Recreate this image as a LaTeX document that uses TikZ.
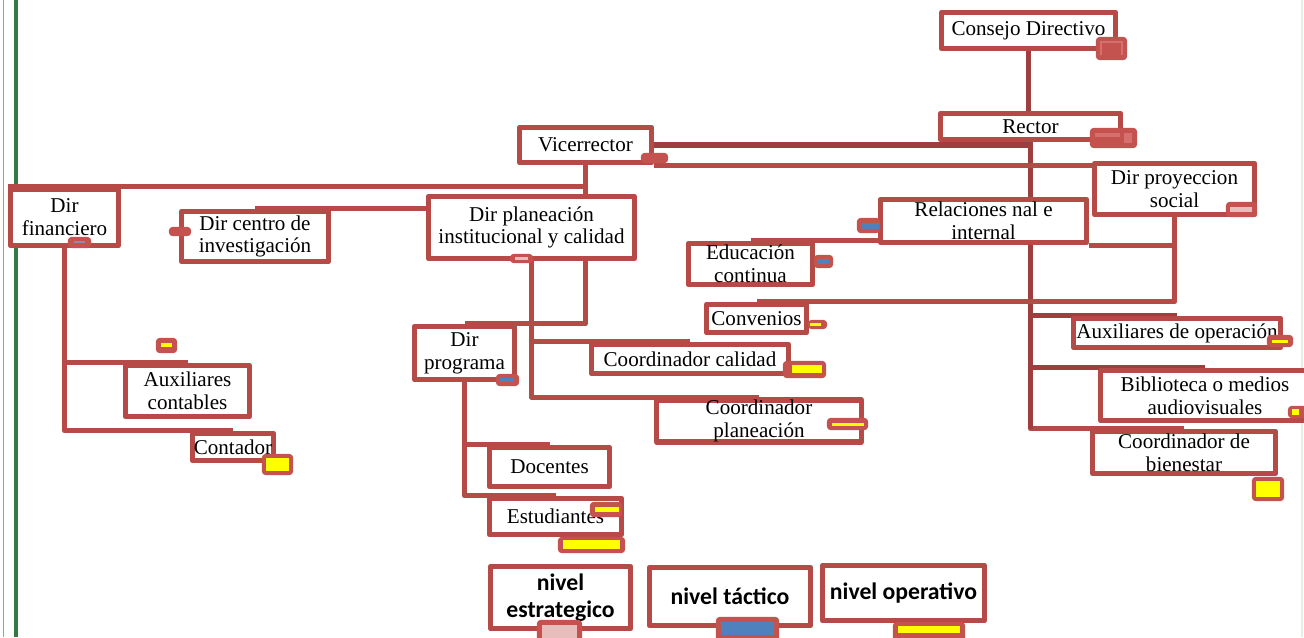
\documentclass[tikz,border=0pt]{standalone}
\usepackage{fontspec}
\setmainfont{Liberation Serif}
\newfontfamily\legendfont{Carlito}
\usetikzlibrary{backgrounds}
\definecolor{boxred}{RGB}{181,74,71}
\definecolor{darkred}{RGB}{158,62,62}
\definecolor{tagred}{RGB}{196,82,79}
\definecolor{taglight}{RGB}{214,112,110}
\definecolor{tagyellow}{RGB}{255,255,0}
\definecolor{tagblue}{RGB}{79,129,189}
\definecolor{taggray}{RGB}{140,140,170}
\definecolor{tagpink}{RGB}{232,190,189}
\definecolor{greenA}{RGB}{55,120,65}
\definecolor{greenB}{RGB}{130,180,130}
\definecolor{greenC}{RGB}{225,242,225}
\begin{document}
\begin{tikzpicture}[x=0.02cm,y=-0.02cm,
  box/.style={draw=boxred, line width=3pt, fill=white, inner sep=0pt, align=center,
              font=\fontsize{12}{13}\selectfont, line join=round},
  legendbox/.style={box, font=\legendfont\bfseries\fontsize{13.5}{15}\selectfont},
  conn/.style={draw=boxred, line width=2.9pt, line join=round},
  darkconn/.style={conn, draw=darkred},
  tagbox/.style={fill=tagred, draw=tagred, line width=1.2pt, rounded corners=1.5pt},
]
\useasboundingbox (0,0) rectangle (1304,637);

% boxes
\node[box, minimum width=3.48cm, minimum height=0.72cm] (consejo) at (1028.5,30.5) {Consejo Directivo};
\node[box, minimum width=3.60cm, minimum height=0.52cm] (rector) at (1030.5,126.5) {Rector};
\node[box, minimum width=2.64cm, minimum height=0.70cm] (vice) at (585.5,145) {Vicerrector};
\node[box, minimum width=2.16cm, minimum height=1.12cm] (finan) at (64.5,217.5) {Dir\\financiero};
\node[box, minimum width=2.94cm, minimum height=1.00cm] (centro) at (255,236.5) {Dir centro de\\investigación};
\node[box, minimum width=4.12cm, minimum height=1.24cm] (planea) at (531.5,227.5) {Dir planeación\\institucional y calidad};
\node[box, minimum width=2.48cm, minimum height=1.02cm] (auxc) at (187.5,391) {Auxiliares\\contables};
\node[box, minimum width=1.62cm, minimum height=0.54cm] (contador) at (233,447) {Contador};
\node[box, minimum width=2.00cm, minimum height=1.06cm] (prog) at (464.5,353) {Dir\\programa};
\node[box, minimum width=3.94cm, minimum height=0.58cm] (ccal) at (690,359) {Coordinador calidad};
\node[box, minimum width=4.10cm, minimum height=0.78cm] (cplan) at (759,421) {Coordinador\\planeación};
\node[box, minimum width=2.40cm, minimum height=0.78cm] (doc) at (549.5,467) {Docentes};
\node[box, minimum width=2.64cm, minimum height=0.72cm] (est) at (555.5,516.5) {Estudiantes};
\node[box, minimum width=4.12cm, minimum height=0.86cm] (rel) at (983.5,221) {Relaciones nal e\\internal};
\node[box, minimum width=3.20cm, minimum height=1.02cm] (proy) at (1174.5,189) {Dir proyeccion\\social};
\node[box, minimum width=2.48cm, minimum height=0.82cm] (edu) at (750.5,264) {Educación\\continua};
\node[box, minimum width=2.00cm, minimum height=0.56cm] (conv) at (756.5,318.5) {Convenios};
\node[box, minimum width=4.14cm, minimum height=0.58cm] (auxop) at (1177,333) {Auxiliares de operación};
\node[box, minimum width=4.18cm, minimum height=1.00cm] (bib) at (1205,395.5) {Biblioteca o medios\\audiovisuales};
\node[box, minimum width=3.66cm, minimum height=0.84cm] (bien) at (1184,452.5) {Coordinador de\\bienestar};
\node[legendbox, minimum width=2.80cm, minimum height=1.24cm] (nest) at (560.5,597.5) {nivel\\estrategico};
\node[legendbox, minimum width=3.22cm, minimum height=1.16cm] (ntac) at (730,596.5) {nivel táctico};
\node[legendbox, minimum width=3.24cm, minimum height=1.10cm] (nop) at (903.5,593) {nivel operativo};

% connectors
\begin{pgfonlayer}{background}
  \draw[greenB, line width=0.9pt] (3.5,0) -- (3.5,637);
  \draw[greenA, line width=2.6pt] (16,0) -- (16,637);
  \draw[greenC, line width=1pt] (1302,0) -- (1302,637);
  \draw[darkconn] (consejo.south) -- (consejo.south |- rector.north);
  \draw[conn] (rector.south) |- (bien.north);
  \draw[darkconn] (rector.south) -- (rector.south |- bien.north);
  \draw[darkconn] (rector.south) |- (auxop.north);
  \draw[darkconn] (rector.south) |- (bib.north);
  \draw[darkconn] (vice.east) -- (vice.east -| rector.south);
  \draw[conn] (vice.south east) -- (vice.south east -| proy.west);
  \draw[conn] (vice.south) -- (vice.south |- planea.north);
  \draw[conn] (finan.north west) -- (finan.north west -| vice.south);
  \draw[conn] (centro.north) -- (centro.north -| planea.west);
  \draw[conn] (finan.south) |- (auxc.north);
  \draw[conn] (finan.south) |- (contador.north);
  \draw[conn] (planea.south -| vice.south) |- (prog.north);
  \draw[conn] (planea.south) |- (ccal.north);
  \draw[conn] (planea.south) |- (cplan.north);
  \draw[conn] (prog.south) |- (doc.north);
  \draw[conn] (prog.south) |- (est.north);
  \draw[conn] (edu.north) -- (edu.north -| rel.west);
  \draw[conn] (rel.south east) -- (rel.south east -| proy.south);
  \draw[conn] (proy.south) |- (conv.north);
\end{pgfonlayer}

% small tags
\draw[tagbox] (1097,38) rectangle (1126,59);
\draw[taglight, line width=1.5pt] (1101,55) -- (1101,42) -- (1122,42) -- (1122,55);
\draw[tagbox] (1091,129) rectangle (1136,147);
\fill[taglight] (1095,133) rectangle (1120,137);
\fill[taglight] (1124,133) rectangle (1132,143);
\draw[tagbox] (642,154) rectangle (667,162);
\draw[tagbox] (69,238) rectangle (90,247);
\fill[taggray] (74,241) rectangle (85,243);
\draw[tagbox] (170,228) rectangle (190,235);
\draw[tagbox] (511,255) rectangle (532,262);
\fill[tagpink] (515,257) rectangle (528,260);
\draw[tagbox] (858,219) rectangle (879,232);
\fill[tagblue] (862,223) rectangle (879,229);
\draw[tagbox] (1227,203) rectangle (1256,216);
\fill[tagpink] (1230,207) rectangle (1252,212);
\draw[tagbox] (815,256) rectangle (832,267);
\fill[tagblue] (817,259) rectangle (829,264);
\draw[tagbox] (809,321) rectangle (826,328);
\fill[tagyellow] (810,323) rectangle (821,326);
\draw[tagbox] (157,339) rectangle (176,352);
\fill[tagyellow] (161,343) rectangle (172,347);
\draw[tagbox] (263,455) rectangle (292,474);
\fill[tagyellow] (266,458) rectangle (289,471);
\draw[tagbox] (497,375) rectangle (518,385);
\fill[tagblue] (500,378) rectangle (514,382);
\draw[tagbox] (784,362) rectangle (825,377);
\fill[tagyellow] (792,365) rectangle (822,373);
\draw[tagbox] (828,419) rectangle (867,429);
\fill[tagyellow] (832,423) rectangle (864,426);
\draw[tagbox] (591,503) rectangle (621,516);
\fill[tagyellow] (595,507) rectangle (619,512);
\draw[tagbox] (559,538) rectangle (624,552);
\fill[tagyellow] (563,540) rectangle (620,549);
\draw[tagbox] (1268,336) rectangle (1292,346);
\fill[tagyellow] (1272,340) rectangle (1288,343);
\draw[tagbox] (1289,407) rectangle (1306,417);
\fill[tagyellow] (1292,409) rectangle (1299,415);
\draw[tagbox] (1253,478) rectangle (1283,500);
\fill[tagyellow] (1256,481) rectangle (1280,497);
\draw[tagbox] (538,621) rectangle (581,642);
\fill[tagpink] (542,625) rectangle (577,642);
\draw[tagbox] (717,618) rectangle (778,642);
\fill[tagblue] (721,622) rectangle (774,635);
\draw[tagbox] (894,623) rectangle (964,642);
\fill[tagyellow] (898,626) rectangle (960,633);
\end{tikzpicture}
\end{document}
